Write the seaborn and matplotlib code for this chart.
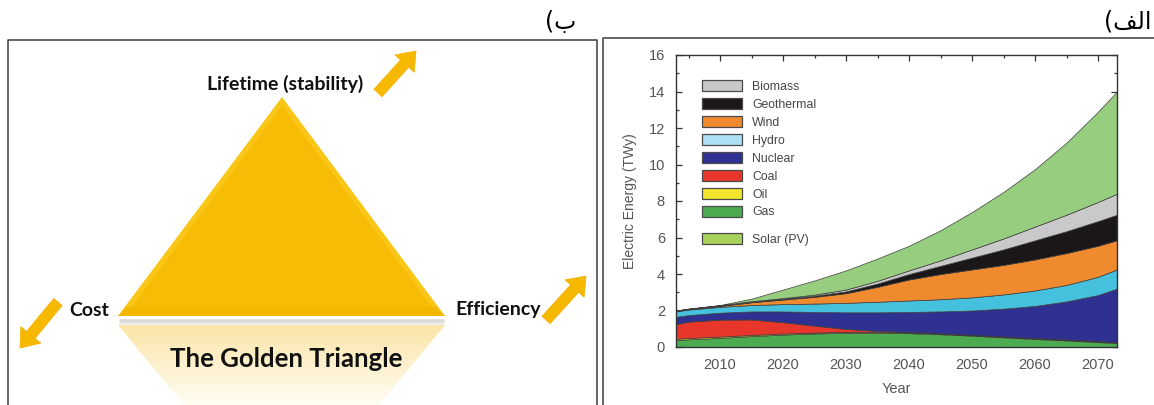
import numpy as np
import matplotlib
matplotlib.use("Agg")
import matplotlib.pyplot as plt
import seaborn as sns
from matplotlib.patches import Polygon, FancyArrow, Patch
from matplotlib.ticker import MultipleLocator

# ---- electricity generation by source (TWy), stacked bottom to top ----
years = [2003, 2005, 2010, 2015, 2020, 2025, 2030, 2035, 2040, 2045, 2050, 2055, 2060, 2065, 2070, 2073]
gas = [0.38, 0.42, 0.50, 0.60, 0.68, 0.74, 0.78, 0.78, 0.76, 0.70, 0.62, 0.53, 0.44, 0.36, 0.27, 0.22]
oil = [0.07, 0.07, 0.07, 0.06, 0.06, 0.05, 0.05, 0.04, 0.04, 0.03, 0.03, 0.03, 0.03, 0.03, 0.03, 0.03]
coal = [0.80, 0.90, 0.93, 0.85, 0.62, 0.38, 0.16, 0.06, 0.03, 0.02, 0.02, 0.02, 0.02, 0.02, 0.02, 0.02]
nuclear = [0.40, 0.36, 0.38, 0.44, 0.59, 0.75, 0.91, 1.02, 1.09, 1.20, 1.33, 1.52, 1.76, 2.09, 2.53, 2.93]
hydro = [0.30, 0.30, 0.32, 0.35, 0.40, 0.46, 0.52, 0.58, 0.63, 0.67, 0.72, 0.78, 0.85, 0.90, 1.00, 1.05]
wind = [0.03, 0.03, 0.05, 0.15, 0.25, 0.37, 0.53, 0.82, 1.15, 1.38, 1.53, 1.62, 1.70, 1.75, 1.70, 1.60]
geothermal = [0.01, 0.01, 0.02, 0.03, 0.04, 0.06, 0.10, 0.18, 0.30, 0.45, 0.65, 0.85, 1.05, 1.20, 1.35, 1.40]
biomass = [0.01, 0.01, 0.02, 0.03, 0.04, 0.06, 0.10, 0.15, 0.20, 0.30, 0.45, 0.60, 0.75, 0.90, 1.05, 1.15]
solar = [0.00, 0.00, 0.01, 0.14, 0.47, 0.78, 1.05, 1.22, 1.35, 1.65, 2.05, 2.55, 3.15, 3.95, 4.95, 5.60]

legend_names = ["Biomass", "Geothermal", "Wind", "Hydro", "Nuclear", "Coal", "Oil", "Gas"]
solar_name = "Solar (PV)"
x_ticks = [2010, 2020, 2030, 2040, 2050, 2060, 2070]
y_ticks = [0, 2, 4, 6, 8, 10, 12, 14, 16]

# ---- diagram labels ----
corner_labels = ["Lifetime (stability)", "Cost", "Efficiency"]
triangle_title = "The Golden Triangle"
panel_b = "(\u0628"
panel_a = "(\ufed2\ufedf\ufe8d"

area_colors = {
    "Gas": "#4caa50", "Oil": "#f1e62c", "Coal": "#e8362a", "Nuclear": "#2e3192",
    "Hydro": "#46c1dd", "Wind": "#f08a2e", "Geothermal": "#1b1718",
    "Biomass": "#c9c9cb", "Solar": "#97cd7e",
}
legend_colors = {
    "Biomass": "#c8c8c8", "Geothermal": "#1b1718", "Wind": "#f08a2e", "Hydro": "#ade0f4",
    "Nuclear": "#2e3192", "Coal": "#e8362a", "Oil": "#f1e62c", "Gas": "#4caa50",
    "Solar": "#a8d25c",
}

sns.set_theme(style="ticks")
plt.rcParams["font.family"] = ["Liberation Sans", "DejaVu Sans"]

fig = plt.figure(figsize=(11.54, 4.05), dpi=100)
fig.patch.set_facecolor("white")

# background canvas in pixel units for the diagram and panel frames
bg = fig.add_axes([0, 0, 1, 1], zorder=0)
bg.set_xlim(0, 1154)
bg.set_ylim(405, 0)
bg.axis("off")

frame_kw = dict(color="#3c3c3c", lw=1.1, solid_capstyle="butt")
bg.plot([8, 8, 597, 597], [410, 40, 40, 410], **frame_kw)
bg.plot([603, 603, 1160], [410, 38, 38], **frame_kw)

bg.text(576, 22, panel_b, ha="right", va="center", fontsize=17,
        family=["DejaVu Sans"], color="black")
bg.text(1151, 22, panel_a, ha="right", va="center", fontsize=17,
        family=["DejaVu Sans"], color="black")

# golden triangle with a soft bevel
apex, left, right = (282, 97), (118, 316), (445, 316)
bg.add_patch(Polygon([apex, left, right], closed=True, fc="#fac617", ec="none", zorder=2))
cx = (apex[0] + left[0] + right[0]) / 3
cy = (apex[1] + left[1] + right[1]) / 3
inner = [(cx + (px - cx) * 0.94, cy + (py - cy) * 0.94) for px, py in (apex, left, right)]
bg.add_patch(Polygon(inner, closed=True, fc="#f7bd06", ec="none", zorder=3))
bg.add_patch(Polygon([left, right, (right[0] - 9, 307), (left[0] + 9, 307)], closed=True,
                     fc="#f4b700", ec="none", zorder=3))

# shadow under the base
for off, a in [(4, 0.35), (6, 0.2), (8, 0.1)]:
    bg.plot([120, 443], [316 + off, 316 + off], color="#9a9a9a", lw=2, alpha=a, zorder=1)

# faded reflection beneath the triangle
refl = Polygon([(118, 325), (445, 325), (445 - 70, 410), (118 + 70, 410)], closed=True,
               fc="none", ec="none")
bg.add_patch(refl)
grad = np.linspace(0, 1, 100)[:, None]
cmap = matplotlib.colors.LinearSegmentedColormap.from_list("fade", ["#fbe5a8", "#fffef8"])
im = bg.imshow(grad, cmap=cmap, extent=(118, 445, 410, 325), aspect="auto", zorder=1,
               interpolation="bilinear")
im.set_clip_path(refl)
bg.set_xlim(0, 1154)
bg.set_ylim(405, 0)

txt_kw = dict(family=["Lato", "DejaVu Sans"], fontweight="bold", color="#111111")
bg.text(285, 84, corner_labels[0], ha="center", va="center", fontsize=14, **txt_kw)
bg.text(89, 311, corner_labels[1], ha="center", va="center", fontsize=14, **txt_kw)
bg.text(498, 310, corner_labels[2], ha="center", va="center", fontsize=14, **txt_kw)
bg.text(286, 359, triangle_title, ha="center", va="center", fontsize=18.5, **txt_kw)

arrow_kw = dict(width=11, head_width=26, head_length=17, length_includes_head=True,
                fc="#f7b800", ec="#f3b000", lw=0.5, zorder=4)
bg.add_patch(FancyArrow(378, 93, 38, -42, **arrow_kw))
bg.add_patch(FancyArrow(546, 320, 40, -44, **arrow_kw))
bg.add_patch(FancyArrow(58, 302, -38, 46, **arrow_kw))

# ---- stacked area chart ----
ax = fig.add_axes([676 / 1154, (405 - 347) / 405, 441 / 1154, 292 / 405], zorder=2)
layers = [gas, oil, coal, nuclear, hydro, wind, geothermal, biomass, solar]
keys = ["Gas", "Oil", "Coal", "Nuclear", "Hydro", "Wind", "Geothermal", "Biomass", "Solar"]
ax.stackplot(years, *layers, colors=[area_colors[k] for k in keys],
             edgecolor="#3d3d3d", linewidth=0.5)

ax.set_xlim(2003, 2073)
ax.set_ylim(0, 16)
ax.set_xticks(x_ticks)
ax.set_yticks(y_ticks)
ax.xaxis.set_minor_locator(MultipleLocator(5))
ax.yaxis.set_minor_locator(MultipleLocator(1))
ax.tick_params(which="both", direction="in", top=True, right=True, color="#333333",
               labelsize=10.5, labelcolor="#555555", width=0.9)
ax.tick_params(which="major", length=4, pad=8)
ax.tick_params(which="minor", length=2.5)
for s in ax.spines.values():
    s.set_color("#333333")
    s.set_linewidth(1.0)
ax.set_xlabel("Year", fontsize=10.5, color="#555555", labelpad=7)
ax.set_ylabel("Electric Energy (TWy)", fontsize=10, color="#555555", labelpad=8)
ax.set_facecolor("white")

leg_kw = dict(loc="upper left", frameon=False, fontsize=8.8, handlelength=3.3,
              handleheight=1.0, handletextpad=0.8, borderaxespad=0, borderpad=0,
              labelcolor="#444444")
handles = [Patch(fc=legend_colors[n], ec="#4a4a4a", lw=0.9) for n in legend_names]
leg = ax.legend(handles, legend_names, bbox_to_anchor=(0.059, 0.913),
                labelspacing=0.43, **leg_kw)
ax.add_artist(leg)
ax.legend([Patch(fc=legend_colors["Solar"], ec="#4a4a4a", lw=0.9)], [solar_name],
          bbox_to_anchor=(0.059, 0.39), **leg_kw)

fig.savefig("out.png", dpi=100, facecolor="white")
